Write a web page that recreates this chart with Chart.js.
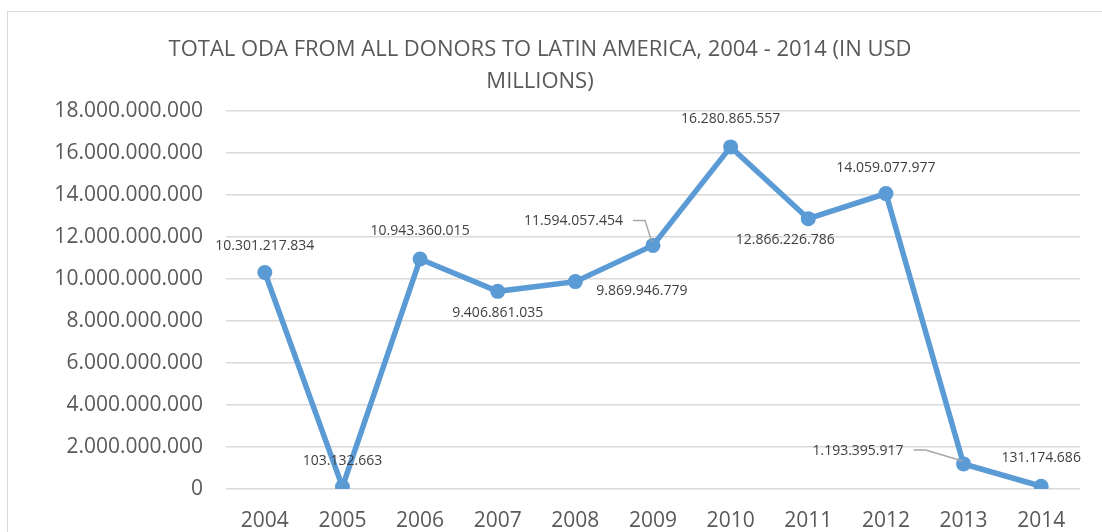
<!DOCTYPE html>
<html>
<head>
<meta charset="utf-8">
<title>Total ODA to Latin America</title>
<script src="https://cdn.jsdelivr.net/npm/chart.js@4"></script>
<style>
    html, body { margin: 0; padding: 0; background: #fff; overflow: hidden; }
    #frame {
        position: absolute; left: 7px; top: 11px; width: 1110px; height: 540px;
        border: 1px solid #d9d9d9; box-sizing: border-box;
    }
    #wrap { position: absolute; left: 0; top: 0; width: 1102px; height: 532px; }
</style>
</head>
<body>
<div id="frame"></div>
<div id="wrap"><canvas id="chartCanvas" width="1102" height="532"></canvas></div>
<script>
// =========================
// Data
// =========================
const years = ["2004", "2005", "2006", "2007", "2008", "2009", "2010", "2011", "2012", "2013", "2014"];
const odaValues = [
    10301217834, 103132663, 10943360015, 9406861035, 9869946779, 11594057454,
    16280865557, 12866226786, 14059077977, 1193395917, 131174686
];
const yTicks = [0, 2e9, 4e9, 6e9, 8e9, 10e9, 12e9, 14e9, 16e9, 18e9];
const chartTitle = ["TOTAL ODA FROM ALL DONORS TO LATIN AMERICA, 2004 - 2014 (IN USD", "MILLIONS)"];

// thousands separator with dots
function fmt(v) {
    return String(Math.round(v)).replace(/\B(?=(\d{3})+(?!\d))/g, ".");
}

// =========================
// Data labels (placement per point)
// =========================
const labelPlacement = [
    { dx: 0, dy: -27 },
    { dx: 0, dy: -26 },
    { dx: 0, dy: -28 },
    { dx: 0, dy: 22 },
    { dx: 21, dy: 9, align: "left" },
    { dx: -30, dy: -24, align: "right", leader: true },
    { dx: 0, dy: -28 },
    { dx: -23, dy: 21 },
    { dx: 0, dy: -26 },
    { dx: -60, dy: -13, align: "right", leader: true },
    { dx: 0, dy: -28 }
];

const dataLabels = {
    id: "dataLabels",
    afterDatasetsDraw(chart) {
        const ctx = chart.ctx;
        const meta = chart.getDatasetMeta(0);
        ctx.save();
        ctx.font = "14px 'Open Sans'";
        ctx.fillStyle = "#404040";
        ctx.textBaseline = "middle";
        meta.data.forEach((pt, i) => {
            const p = labelPlacement[i];
            const lx = pt.x + p.dx;
            const ly = pt.y + p.dy;
            ctx.textAlign = p.align || "center";
            ctx.fillText(fmt(odaValues[i]), lx, ly);
            if (p.leader) {
                ctx.strokeStyle = "#a6a6a6";
                ctx.lineWidth = 1.5;
                ctx.beginPath();
                ctx.moveTo(lx + 10, ly - 1);
                ctx.lineTo(lx + 22, ly - 1);
                ctx.lineTo(pt.x - 1, pt.y - 3);
                ctx.stroke();
            }
        });
        ctx.restore();
    }
};

// =========================
// Chart
// =========================
const ctx = document.getElementById("chartCanvas").getContext("2d");

new Chart(ctx, {
    type: "line",
    data: {
        labels: years,
        datasets: [{
            data: odaValues,
            borderColor: "#5b9bd5",
            backgroundColor: "#5b9bd5",
            borderWidth: 5.5,
            pointRadius: 7.5,
            pointHoverRadius: 7.5,
            pointBorderWidth: 0,
            tension: 0
        }]
    },
    options: {
        responsive: false,
        animation: false,
        layout: { padding: { left: 0, right: 22, top: 0, bottom: 0 } },
        plugins: {
            legend: { display: false },
            tooltip: { enabled: false },
            title: {
                display: true,
                text: chartTitle,
                color: "#595959",
                font: { family: "'Open Sans'", size: 22, weight: "normal", lineHeight: 1.45 },
                padding: { top: 34, bottom: 13 }
            }
        },
        scales: {
            x: {
                offset: true,
                grid: { display: false, drawTicks: false },
                border: { display: false },
                ticks: { color: "#595959", font: { family: "'Open Sans'", size: 21 }, padding: 19 },
                afterFit: s => { s.height = 43; }
            },
            y: {
                min: 0,
                max: 18e9,
                afterBuildTicks: s => { s.ticks = yTicks.map(v => ({ value: v })); },
                grid: { color: "#d9d9d9", lineWidth: 1.5, drawTicks: false },
                border: { display: false },
                ticks: {
                    color: "#595959",
                    font: { family: "'Open Sans'", size: 21 },
                    padding: 23,
                    callback: v => fmt(v)
                },
                afterFit: s => { s.width = 226; }
            }
        }
    },
    plugins: [dataLabels]
});
</script>
</body>
</html>
